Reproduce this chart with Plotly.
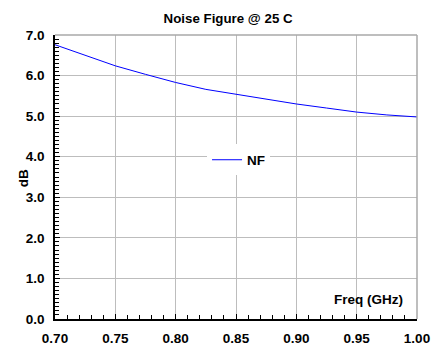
import plotly.graph_objects as go

freq = [0.70, 0.725, 0.75, 0.775, 0.80, 0.825, 0.85, 0.875, 0.90, 0.925, 0.95, 0.975, 1.00]
nf = [6.76, 6.50, 6.24, 6.03, 5.83, 5.66, 5.54, 5.42, 5.30, 5.20, 5.10, 5.03, 4.98]

x_ticks = [0.70, 0.75, 0.80, 0.85, 0.90, 0.95, 1.00]
x_labels = ["0.70", "0.75", "0.80", "0.85", "0.90", "0.95", "1.00"]
y_ticks = [0, 1, 2, 3, 4, 5, 6, 7]
y_labels = ["0.0", "1.0", "2.0", "3.0", "4.0", "5.0", "6.0", "7.0"]

FONT = "Arial, Liberation Sans, sans-serif"
bold = dict(family=FONT, size=13.5, color="black", weight="bold")

fig = go.Figure()
fig.add_trace(go.Scatter(x=freq, y=nf, mode="lines", name="NF",
                         line=dict(color="#0000ff", width=1)))

fig.update_layout(
    width=435, height=335,
    margin=dict(l=47, r=26, t=27, b=24),
    paper_bgcolor="white", plot_bgcolor="white",
    title=dict(text="Noise Figure @ 25 C", x=0.506, xanchor="center", y=0.97, yanchor="middle",
               font=dict(family=FONT, size=13.3, color="black", weight="bold")),
    showlegend=True,
    legend=dict(x=0.507, y=0.56, xanchor="center", yanchor="middle",
                bgcolor="white", borderwidth=0,
                font=dict(family=FONT, size=13.5, color="black", weight="bold"),
                itemwidth=30),
    shapes=[
        dict(type="line", xref="paper", yref="paper", x0=0, x1=1, y0=1, y1=1,
             line=dict(color="#a8a8a8", width=1.5), layer="above"),
        dict(type="line", xref="paper", yref="paper", x0=1, x1=1, y0=0, y1=1,
             line=dict(color="#a8a8a8", width=1.5), layer="above"),
    ],
    annotations=[
        dict(text="Freq (GHz)", xref="paper", yref="paper", x=0.967, y=0.07,
             xanchor="right", yanchor="middle", showarrow=False,
             font=dict(family=FONT, size=13.5, color="black", weight="bold")),
        dict(text="dB", xref="paper", yref="paper", x=-0.088, y=0.496,
             xanchor="center", yanchor="middle", showarrow=False, textangle=-90,
             font=dict(family=FONT, size=13.5, color="black", weight="bold")),
    ],
)

fig.update_xaxes(
    range=[0.70, 1.00], tickvals=x_ticks, ticktext=x_labels,
    showgrid=True, gridcolor="#bdbdbd", gridwidth=1.2,
    showline=True, linecolor="black", linewidth=1.5,
    ticks="inside", ticklen=5, tickcolor="black",
    tickfont=bold, zeroline=False, ticklabelstandoff=6, automargin=False,
    minor=dict(dtick=0.01, ticks="inside", ticklen=4, tickcolor="black"),
)
fig.update_yaxes(
    range=[0, 7], tickvals=y_ticks, ticktext=y_labels,
    showgrid=True, gridcolor="#bdbdbd", gridwidth=1.2,
    showline=True, linecolor="black", linewidth=1.5,
    ticks="inside", ticklen=5, tickcolor="black",
    tickfont=bold, zeroline=False, ticklabelstandoff=6, automargin=False,
    minor=dict(dtick=0.1, ticks="inside", ticklen=4, tickcolor="black"),
)

fig.write_html("out.html")
